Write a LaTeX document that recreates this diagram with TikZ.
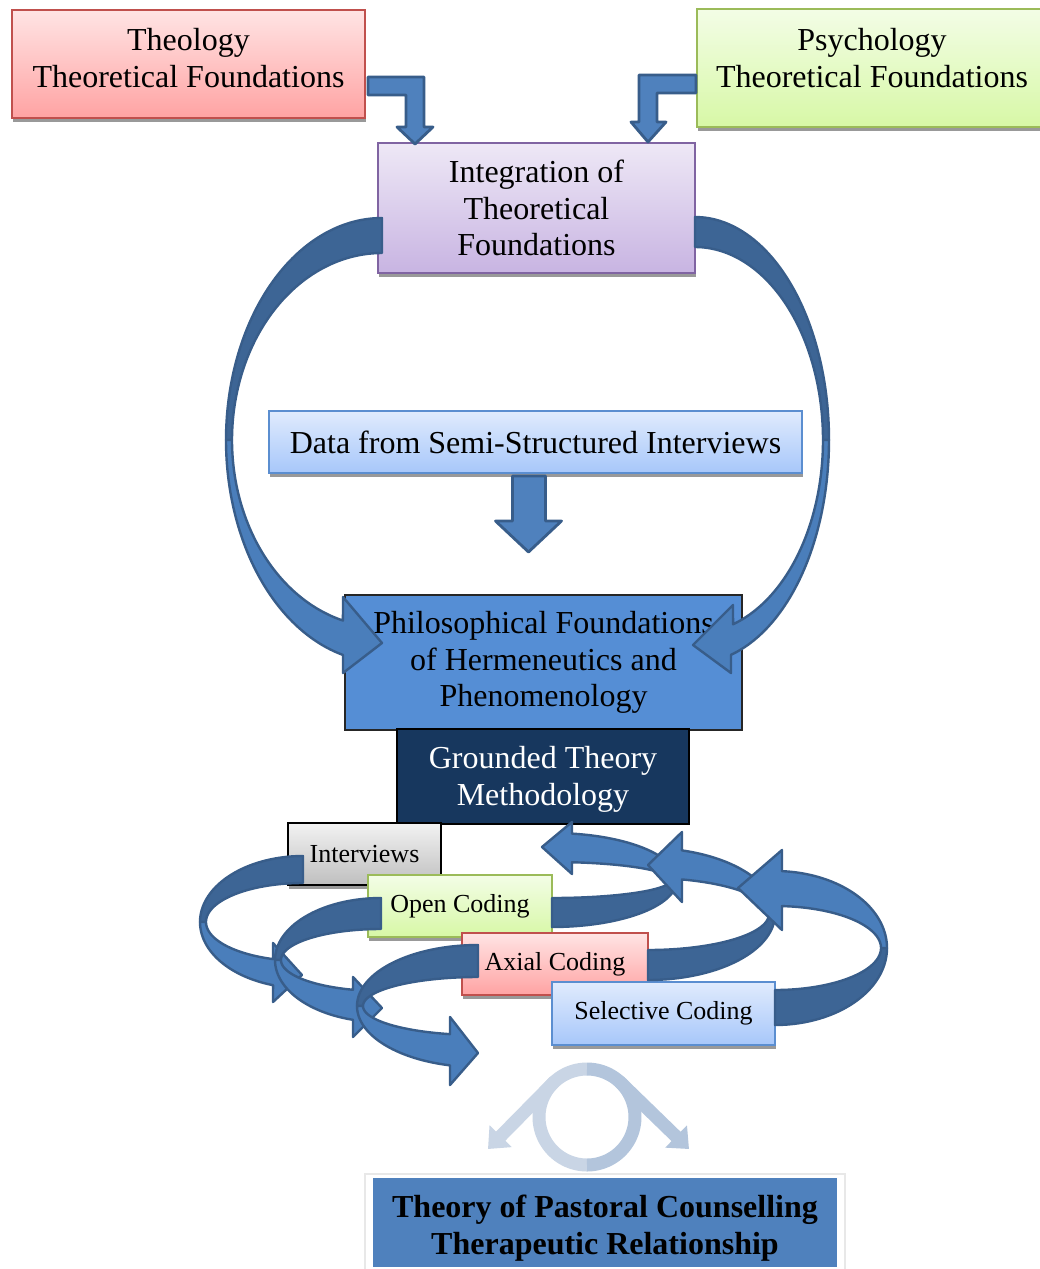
\documentclass[tikz,border=0pt]{standalone}
\usepackage{fontspec}
\setmainfont{Liberation Serif}
\usetikzlibrary{shadows,arrows.meta}

% box colours
\definecolor{redtop}{HTML}{FFE4E4}
\definecolor{redbot}{HTML}{FFA3A3}
\definecolor{redline}{HTML}{C0504D}
\definecolor{greentop}{HTML}{F3FDE6}
\definecolor{greenbot}{HTML}{D7F8A6}
\definecolor{greenline}{HTML}{9BBB59}
\definecolor{purpletop}{HTML}{EEE8F6}
\definecolor{purplebot}{HTML}{C8B4E2}
\definecolor{purpleline}{HTML}{8064A2}
\definecolor{bluetop}{HTML}{E0EBFD}
\definecolor{bluebot}{HTML}{A7C7FA}
\definecolor{blueline}{HTML}{5B8ED0}
\definecolor{graytop}{HTML}{F2F2F2}
\definecolor{graybot}{HTML}{BFBFBF}
\definecolor{philfill}{HTML}{558ED5}
\definecolor{gtfill}{HTML}{17375E}
\definecolor{theoryfill}{HTML}{4F81BD}
% arrow colours
\definecolor{arrowfill}{HTML}{4A7EBB}
\definecolor{arrowdark}{HTML}{3D6595}
\definecolor{arrowline}{HTML}{385D8A}
\definecolor{iconlight}{HTML}{C9D5E5}
\definecolor{icondark}{HTML}{B3C5DC}

\newcommand\mainsize{\fontsize{16}{18.4}\selectfont}
\newcommand\labelsize{\fontsize{13}{15}\selectfont}

% box node from its corners (x1,y1)-(x2,y2), in pixel units
\newcommand\pbox[7]{%
  \pgfmathsetmacro\pbw{(#4-#2)*0.5}%
  \pgfmathsetmacro\pbh{(#5-#3)*0.5}%
  \node[#6, minimum width=\pbw pt, minimum height=\pbh pt] (#1) at ({(#2+#4)/2},{(#3+#5)/2}) {#7};}

% back (dark) half of a curved ribbon arrow: centre, outer radii, inner radii, angles
\newcommand\backband[8]{%
  \filldraw[backpart] plot[domain=#7:#8,samples=60] ({#1+#3*cos(\x)},{#2+#4*sin(\x)})
    -- plot[domain=#8:#7,samples=60] ({#1+#5*cos(\x)},{#2+#6*sin(\x)}) -- cycle;}

\begin{document}
\begin{tikzpicture}[x=0.5pt, y=-0.5pt,
  pbx/.style={draw, line width=1pt, inner sep=0pt, align=center, font=\mainsize,
    drop shadow={shadow xshift=0.6pt, shadow yshift=-2pt, fill=black!40, opacity=1}},
  flatbox/.style={inner sep=0pt, align=center, font=\mainsize},
  redbox/.style={pbx, draw=redline, top color=redtop, bottom color=redbot},
  greenbox/.style={pbx, draw=greenline, top color=greentop, bottom color=greenbot},
  purplebox/.style={pbx, draw=purpleline, top color=purpletop, bottom color=purplebot},
  bluebox/.style={pbx, draw=blueline, top color=bluetop, bottom color=bluebot},
  graybox/.style={pbx, draw=black, top color=graytop, bottom color=graybot},
  smalltext/.style={font=\labelsize},
  txt/.style={inner sep=0pt, align=center, font=\mainsize},
  philbox/.style={flatbox, draw=black!85, line width=0.7pt, fill=philfill},
  gtbox/.style={flatbox, draw=black, line width=0.7pt, fill=gtfill},
  theorybox/.style={flatbox, fill=theoryfill},
  blockarrow/.style={fill=theoryfill, draw=arrowline, line width=1.4pt, line join=round},
  backpart/.style={fill=arrowdark, draw=arrowline, line width=1.2pt, line join=round},
  frontpart/.style={fill=arrowfill, draw=arrowline, line width=1.2pt, line join=round},
]
\useasboundingbox (0,0) rectangle (1039,1269);
\fill[white] (0,0) rectangle (1039,1269);

% ---- sources and integration ----
\pbox{theo}{12}{10}{365}{118}{redbox}{}
\node[txt] (theotxt) at (188.5,58.4) {Theology\\Theoretical Foundations};
\pbox{psy}{697}{9}{1047}{127}{greenbox}{}
\node[txt] (psytxt) at (872,58.4) {Psychology\\Theoretical Foundations};
\pbox{integ}{378}{143}{695}{273}{purplebox}{Integration of\\Theoretical\\Foundations}

\begin{scope}[shift={(theo.east)}]
  \filldraw[blockarrow] (2,13) -- (58,13) -- (58,63) -- (67,63) -- (49,80) -- (31,63)
    -- (40,63) -- (40,31) -- (2,31) -- cycle;
\end{scope}
\begin{scope}[shift={(psy.west)}]
  \filldraw[blockarrow] (0,7) -- (-57,7) -- (-57,54) -- (-65,54) -- (-48,74) -- (-30,54)
    -- (-39,54) -- (-39,25) -- (0,25) -- cycle;
\end{scope}

% ---- data and philosophical foundations ----
\pbox{data}{269}{411}{802}{473}{bluebox}{Data from Semi-Structured Interviews}
\begin{scope}[shift={(data.south)}]
  \filldraw[blockarrow] (-23,2) -- (10,2) -- (10,47) -- (26,47) -- (-7,78) -- (-40,47)
    -- (-23,47) -- cycle;
\end{scope}

\pbox{phil}{345}{595}{742}{730}{philbox}{Philosophical Foundations\\of Hermeneutics and\\Phenomenology}
\pbox{gt}{397}{729}{689}{824}{gtbox}{}
\node[txt, text=white] (gttxt) at (543,779) {Grounded Theory\\Methodology};

% ---- large curved arrows from integration to philosophy ----
\backband{382}{440}{156}{222}{150}{187}{270}{180}
\filldraw[frontpart] plot[domain=180:104.5,samples=60] ({382+156*cos(\x)},{440+222*sin(\x)})
  -- (343,673) -- (382,643) -- (343,597)
  -- plot[domain=105.1:180,samples=60] ({382+150*cos(\x)},{440+187*sin(\x)}) -- cycle;

\backband{695}{440}{134}{223}{128}{193}{270}{360}
\filldraw[frontpart] plot[domain=0:74.4,samples=60] ({695+134*cos(\x)},{440+223*sin(\x)})
  -- (731,673) -- (693,645) -- (733,605)
  -- plot[domain=72.7:0,samples=60] ({695+128*cos(\x)},{440+193*sin(\x)}) -- cycle;

% ---- coding stages ----
\pbox{intv}{288}{823}{441}{885}{graybox,smalltext}{Interviews}
\pbox{open}{368}{875}{552}{937}{greenbox,smalltext}{Open Coding}
\pbox{axial}{462}{933}{648}{995}{redbox,smalltext}{Axial Coding}
\pbox{sel}{552}{982}{775}{1045}{bluebox,smalltext}{Selective Coding}

% left loops
\backband{303}{922}{103}{66}{97}{39}{270}{180}
\filldraw[frontpart] plot[domain=180:106.9,samples=60] ({303+103*cos(\x)},{922+66*sin(\x)})
  -- (273,1002) -- (302,975) -- (273,943)
  -- plot[domain=108.0:180,samples=60] ({303+97*cos(\x)},{922+39*sin(\x)}) -- cycle;

\backband{381}{960}{106}{62}{100}{31}{270}{180}
\filldraw[frontpart] plot[domain=180:105.3,samples=60] ({381+106*cos(\x)},{960+62*sin(\x)})
  -- (353,1037) -- (382,1008) -- (353,977)
  -- plot[domain=106.3:180,samples=60] ({381+100*cos(\x)},{960+31*sin(\x)}) -- cycle;

\backband{478}{1006}{121}{61}{115}{29}{270}{180}
\filldraw[frontpart] plot[domain=180:103.4,samples=60] ({478+121*cos(\x)},{1006+61*sin(\x)})
  -- (450,1085) -- (478,1053) -- (450,1017)
  -- plot[domain=104.1:180,samples=60] ({478+115*cos(\x)},{1006+29*sin(\x)}) -- cycle;

% right loops
\backband{552}{880}{125}{47}{119}{18}{90}{0}
\filldraw[frontpart] plot[domain=0:-80.8,samples=60] ({552+125*cos(\x)},{880+47*sin(\x)})
  -- (572,822) -- (542,847) -- (572,874)
  -- plot[domain=-80.3:0,samples=60] ({552+119*cos(\x)},{880+18*sin(\x)}) -- cycle;

\backband{648}{914}{127}{66}{121}{36}{90}{0}
\filldraw[frontpart] plot[domain=0:-74.5,samples=60] ({648+127*cos(\x)},{914+66*sin(\x)})
  -- (682,832) -- (648,865) -- (682,902)
  -- plot[domain=-73.7:0,samples=60] ({648+121*cos(\x)},{914+36*sin(\x)}) -- cycle;

\backband{775}{948}{112}{77}{106}{42}{90}{0}
\filldraw[frontpart] plot[domain=0:-86.4,samples=60] ({775+112*cos(\x)},{948+77*sin(\x)})
  -- (782,850) -- (738,888) -- (782,930)
  -- plot[domain=-86.2:0,samples=60] ({775+106*cos(\x)},{948+42*sin(\x)}) -- cycle;

% ---- cycle icon ----
\draw[iconlight, line width=6.5pt] plot[domain=90:270,samples=60] ({587+48*cos(\x)},{1117+48*sin(\x)});
\draw[icondark, line width=6.5pt] plot[domain=-90:90,samples=60] ({587+48*cos(\x)},{1117+48*sin(\x)});
\draw[iconlight, line width=6.5pt, -{Triangle[width=15pt,length=9pt]}] (555,1081) -- (488,1149);
\draw[icondark, line width=6.5pt, -{Triangle[width=15pt,length=9pt]}] (619,1081) -- (689,1149);

% ---- result ----
\draw[black!9, line width=0.6pt] (365,1174) rectangle (845,1290);
\pbox{theory}{373}{1178}{837}{1267}{theorybox}{}
\node[txt, font=\mainsize\bfseries] (theorytxt) at (605,1228) {Theory of Pastoral Counselling\\Therapeutic Relationship};
\end{tikzpicture}
\end{document}
